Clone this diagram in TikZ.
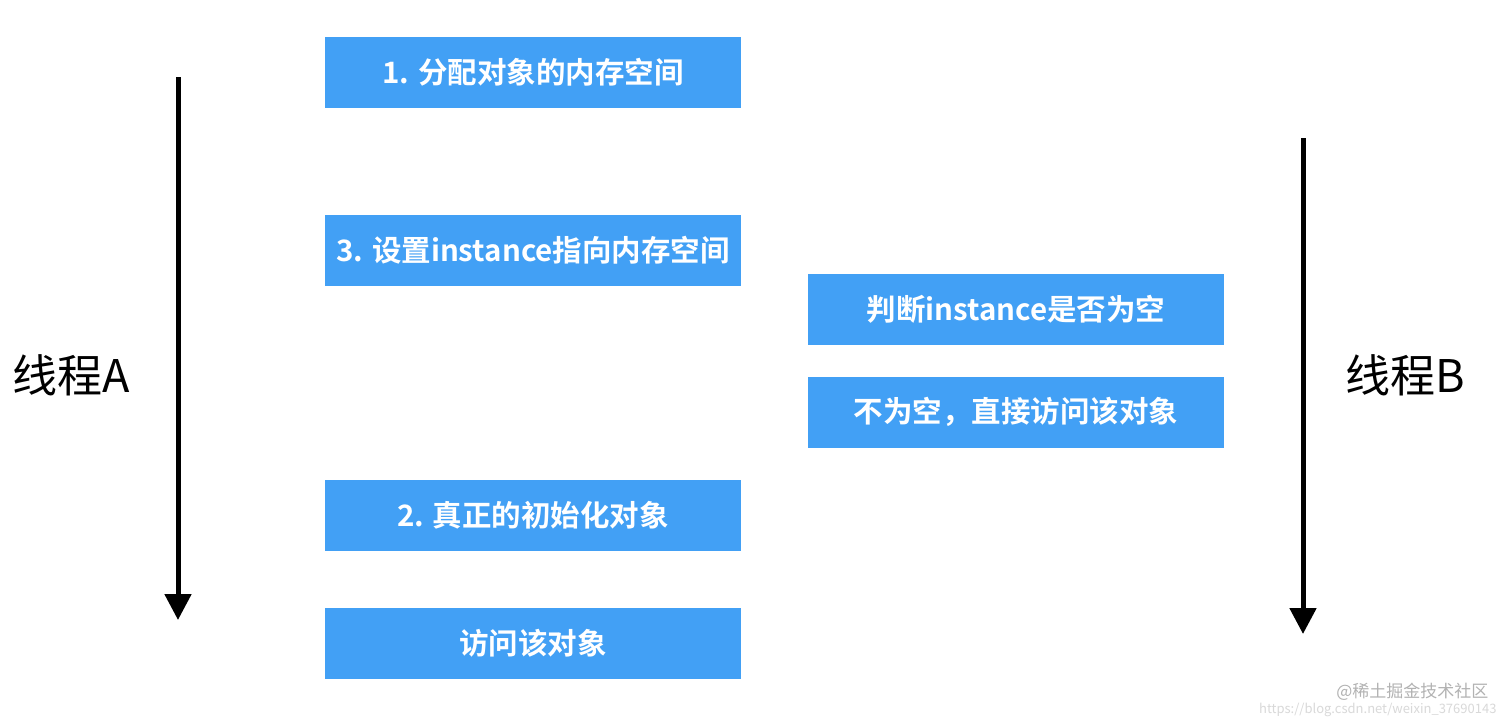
\documentclass[tikz,border=0pt]{standalone}
\usepackage{fontspec}
\setmainfont{Noto Sans CJK SC}
\newfontfamily\cjkb{Noto Sans CJK SC Bold}
\usetikzlibrary{arrows.meta}
\definecolor{boxblue}{HTML}{42A0F5}
\begin{document}
\begin{tikzpicture}[x=1pt,y=-1pt,
  bx/.style={fill=boxblue,draw=none,minimum width=416pt,minimum height=71pt,inner sep=0pt,text=white,font=\cjkb\fontsize{29.5}{34}\selectfont},
  arr/.style={line width=5pt,-{Triangle[length=26pt,width=26pt]}},
  lbl/.style={font=\fontsize{45}{50}\selectfont,text=black}]
\useasboundingbox (0,0) rectangle (1512,724);
\fill[white] (0,0) rectangle (1512,724);
\node[bx] (a1) at (533,72) {1. 分配对象的内存空间};
\node[bx] (a3) at (533,250.5) {3. 设置instance指向内存空间};
\node[bx] (a2) at (533,515) {2. 真正的初始化对象};
\node[bx] (a4) at (533,643.5) {访问该对象};
\node[bx] (b1) at (1016,309) {判断instance是否为空};
\node[bx] (b2) at (1016,412) {不为空，直接访问该对象};
\coordinate (sa) at (178,77); \coordinate (ea) at (178,620);
\coordinate (sb) at (1303,138); \coordinate (eb) at (1303,634);
\draw[arr] (sa) -- (ea);
\draw[arr] (sb) -- (eb);
\node[lbl] (la) at (71,375) {线程A};
\node[lbl] (lb) at (1405,375) {线程B};
\node[text=black!30,font=\fontsize{17}{20}\selectfont,anchor=east] (wm) at (1492,692) {@稀土掘金技术社区};
\node[text=black!15,font=\fontsize{13}{15}\selectfont,anchor=east] (wm2) at (1500,710) {https://blog.csdn.net/weixin\_37690143};
\end{tikzpicture}
\end{document}
